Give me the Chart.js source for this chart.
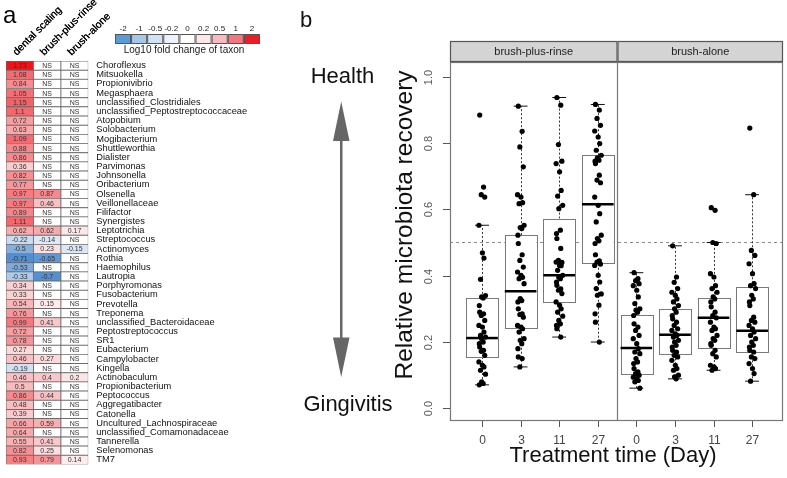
<!DOCTYPE html>
<html>
<head>
<meta charset="utf-8">
<script src="https://cdn.jsdelivr.net/npm/chart.js@4.4.0/dist/chart.umd.min.js"></script>
<style>
  body { margin: 0; background: #fff; width: 787px; height: 478px; overflow: hidden; position: relative; }
  #heat { position: absolute; left: 0; top: 0; width: 280px; height: 478px; }
  #box { position: absolute; left: 280px; top: 0; width: 507px; height: 478px; }
</style>
</head>
<body>
<canvas id="heat" width="280" height="478"></canvas>
<canvas id="box" width="507" height="478"></canvas>
<script>
// ---- panel a: taxa and log10 fold changes (null = NS) ----
const taxa = ["Choroflexus", "Mitsuokella", "Propionivibrio", "Megasphaera", "unclassified_Clostridiales",
  "unclassified_Peptostreptococcaceae", "Atopobium", "Solobacterium", "Mogibacterium", "Shuttleworthia",
  "Dialister", "Parvimonas", "Johnsonella", "Oribacterium", "Olsenella", "Veillonellaceae", "Filifactor",
  "Synergistes", "Leptotrichia", "Streptococcus", "Actinomyces", "Rothia", "Haemophilus", "Lautropia",
  "Porphyromonas", "Fusobacterium", "Prevotella", "Treponema", "unclassified_Bacteroidaceae",
  "Peptostreptococcus", "SR1", "Eubacterium", "Campylobacter", "Kingella", "Actinobaculum",
  "Propionibacterium", "Peptococcus", "Aggregatibacter", "Catonella", "Uncultured_Lachnospiraceae",
  "unclassified_Comamonadaceae", "Tannerella", "Selenomonas", "TM7"];
const treatments = ["dental scaling", "brush-plus-rinse", "brush-alone"];
const dentalScaling = [1.73, 1.08, 0.84, 1.05, 1.15, 1.1, 0.72, 0.63, 1.09, 0.88, 0.86, 0.36, 0.82, 0.77,
  0.97, 0.97, 0.89, 1.11, 0.62, -0.22, -0.5, -0.71, -0.53, -0.33, 0.34, 0.33, 0.54, 0.76, 0.99, 0.72, 0.78,
  0.27, 0.46, -0.19, 0.46, 0.5, 0.86, 0.48, 0.39, 0.66, 0.64, 0.55, 0.82, 0.93];
const brushPlusRinse = [null, null, null, null, null, null, null, null, null, null, null, null, null, null,
  0.87, 0.46, null, null, 0.62, -0.14, 0.23, -0.65, null, -0.7, null, null, 0.15, null, 0.41, null, null,
  null, 0.27, null, 0.4, null, 0.44, null, null, 0.59, null, 0.41, 0.25, 0.79];
const brushAlone = [null, null, null, null, null, null, null, null, null, null, null, null, null, null,
  null, null, null, null, 0.17, null, -0.15, null, null, null, null, null, null, null, null, null, null,
  null, null, null, 0.2, null, null, null, null, null, null, null, null, 0.14];
const legendBreaks = [-2, -1, -0.5, -0.2, 0, 0.2, 0.5, 1, 2];

// ---- panel b: relative microbiota recovery per group ----
const panels = ["brush-plus-rinse", "brush-alone"];
const dayLabels = ["0", "3", "11", "27", "0", "3", "11", "27"];
const yTicks = [0, 0.2, 0.4, 0.6, 0.8, 1.0];
const rinseDay0 = [0.884, 0.667, 0.644, 0.637, 0.552, 0.469, 0.453, 0.389, 0.34, 0.336, 0.333, 0.31, 0.29,
  0.285, 0.28, 0.265, 0.25, 0.245, 0.23, 0.22, 0.215, 0.21, 0.2, 0.195, 0.185, 0.175, 0.172, 0.16, 0.14,
  0.13, 0.125, 0.115, 0.103, 0.08, 0.075, 0.071];
const rinseDay3 = [0.911, 0.835, 0.788, 0.728, 0.644, 0.637, 0.62, 0.617, 0.552, 0.545, 0.542, 0.522, 0.497,
  0.463, 0.446, 0.426, 0.411, 0.401, 0.395, 0.391, 0.376, 0.331, 0.325, 0.321, 0.3, 0.285, 0.283, 0.275,
  0.25, 0.245, 0.24, 0.23, 0.21, 0.205, 0.195, 0.18, 0.155, 0.15, 0.125];
const rinseDay11 = [0.937, 0.914, 0.795, 0.745, 0.738, 0.713, 0.657, 0.64, 0.612, 0.602, 0.537, 0.527, 0.512,
  0.482, 0.446, 0.44, 0.441, 0.431, 0.43, 0.416, 0.401, 0.395, 0.391, 0.381, 0.371, 0.36, 0.356, 0.346,
  0.321, 0.311, 0.3, 0.29, 0.278, 0.265, 0.255, 0.25, 0.24, 0.215];
const rinseDay27 = [0.916, 0.899, 0.874, 0.853, 0.836, 0.818, 0.798, 0.778, 0.763, 0.755, 0.748, 0.745, 0.738,
  0.703, 0.688, 0.68, 0.637, 0.612, 0.587, 0.562, 0.522, 0.512, 0.505, 0.497, 0.463, 0.445, 0.441, 0.435,
  0.431, 0.401, 0.381, 0.361, 0.345, 0.341, 0.311, 0.285, 0.26, 0.2];
const aloneDay0 = [0.409, 0.391, 0.385, 0.376, 0.37, 0.356, 0.336, 0.316, 0.3, 0.296, 0.29, 0.28, 0.255,
  0.245, 0.235, 0.22, 0.21, 0.195, 0.18, 0.17, 0.165, 0.15, 0.14, 0.135, 0.12, 0.11, 0.105, 0.1, 0.094,
  0.09, 0.084, 0.08, 0.061];
const aloneDay3 = [0.49, 0.396, 0.38, 0.361, 0.35, 0.341, 0.33, 0.321, 0.31, 0.3, 0.29, 0.28, 0.27, 0.26,
  0.25, 0.24, 0.235, 0.225, 0.22, 0.215, 0.205, 0.2, 0.19, 0.185, 0.175, 0.17, 0.16, 0.155, 0.145, 0.13,
  0.12, 0.115, 0.1, 0.095, 0.089];
const aloneDay11 = [0.605, 0.597, 0.5, 0.497, 0.406, 0.396, 0.37, 0.361, 0.35, 0.336, 0.33, 0.321, 0.306,
  0.29, 0.28, 0.273, 0.26, 0.245, 0.24, 0.235, 0.22, 0.21, 0.205, 0.195, 0.19, 0.175, 0.165, 0.155, 0.13,
  0.125, 0.12, 0.115];
const aloneDay27 = [0.845, 0.644, 0.476, 0.461, 0.436, 0.406, 0.376, 0.37, 0.361, 0.341, 0.33, 0.321, 0.31,
  0.275, 0.265, 0.26, 0.25, 0.24, 0.23, 0.22, 0.21, 0.2, 0.19, 0.185, 0.175, 0.17, 0.155, 0.15, 0.135,
  0.12, 0.105, 0.082];
// box statistics (lower whisker, Q1, median, Q3, upper whisker)
const whiskerLow = [0.071, 0.125, 0.215, 0.2, 0.061, 0.089, 0.115, 0.082];
const quartile1 = [0.155, 0.243, 0.321, 0.436, 0.103, 0.163, 0.182, 0.169];
const medians = [0.212, 0.353, 0.401, 0.615, 0.182, 0.222, 0.273, 0.234];
const quartile3 = [0.333, 0.522, 0.572, 0.763, 0.28, 0.3, 0.333, 0.365];
const whiskerHigh = [0.552, 0.911, 0.937, 0.916, 0.409, 0.49, 0.5, 0.644];

const FONT = '"Liberation Sans", Arial, Helvetica, sans-serif';
const legendColors = ["#5b9bd5", "#a6c6ea", "#d1e2f4", "#edf3fb", "#ffffff", "#fde5e8", "#f9b9be", "#f2767d", "#ee1c25"];

function mix(a, b, t) {
  return "rgb(" + a.map((c, i) => Math.round(c + (b[i] - c) * t)).join(",") + ")";
}
function heatColor(v) {
  if (v === null) return "#ffffff";
  if (v >= 0) return mix([255, 255, 255], [238, 16, 24], Math.min(1, v / 1.75));
  return mix([255, 255, 255], [72, 136, 206], Math.min(1, -v / 0.75));
}

const heatColumns = [dentalScaling, brushPlusRinse, brushAlone];

const heatDecor = {
  id: "heatDecor",
  afterDatasetsDraw(chart) {
    const ctx = chart.ctx;
    ctx.save();
    ctx.font = "7px " + FONT;
    ctx.fillStyle = "#333";
    ctx.textAlign = "center";
    ctx.textBaseline = "middle";
    chart.data.datasets.forEach((ds, c) => {
      chart.getDatasetMeta(c).data.forEach((bar, i) => {
        const v = heatColumns[c][i];
        ctx.fillText(v === null ? "NS" : String(v), (bar.x + bar.base) / 2, bar.y + 0.5);
      });
    });
    ctx.restore();
  },
  afterDraw(chart) {
    const ctx = chart.ctx, area = chart.chartArea, xs = chart.scales.x;
    ctx.save();
    ctx.fillStyle = "#000";
    ctx.font = "24px " + FONT;
    ctx.textBaseline = "alphabetic";
    ctx.fillText("a", 3, 23);
    // rotated column headers
    ctx.font = "10.5px " + FONT;
    treatments.forEach((t, c) => {
      ctx.save();
      ctx.translate(xs.getPixelForValue(c + 0.5) - 3, area.top - 5);
      ctx.rotate(-Math.PI / 4);
      ctx.fillText(t, 0, 0);
      ctx.fillText(t, 0.3, 0);
      ctx.restore();
    });
    // colour key
    const kx = 115, ky = 34, kw = 16.1, kh = 10;
    legendBreaks.forEach((b, i) => {
      ctx.fillStyle = legendColors[i];
      ctx.fillRect(kx + i * kw, ky, kw, kh);
      ctx.strokeStyle = "#555";
      ctx.lineWidth = 1;
      ctx.strokeRect(kx + i * kw + 0.5, ky + 0.5, kw - 1, kh - 1);
      ctx.fillStyle = "#222";
      ctx.font = "8px " + FONT;
      ctx.textAlign = "center";
      ctx.textBaseline = "middle";
      ctx.fillText(String(b), kx + i * kw + kw / 2, 29);
    });
    ctx.font = "10px " + FONT;
    ctx.fillText("Log10 fold change of taxon", 184, 50.5);
    ctx.restore();
  }
};

new Chart(document.getElementById("heat"), {
  type: "bar",
  data: {
    labels: taxa,
    datasets: heatColumns.map((vals, c) => ({
      label: treatments[c],
      data: taxa.map(() => [c, c + 1]),
      backgroundColor: vals.map(heatColor),
      borderColor: "#6a6a6a",
      borderWidth: 0.8,
      borderSkipped: false,
      grouped: false,
      barPercentage: 1,
      categoryPercentage: 1
    }))
  },
  options: {
    indexAxis: "y",
    responsive: false,
    animation: false,
    layout: { padding: { left: 6, top: 61, right: 0, bottom: 12 } },
    plugins: { legend: { display: false }, tooltip: { enabled: false } },
    scales: {
      x: { type: "linear", min: 0, max: 3, display: false },
      y: {
        position: "right",
        grid: { display: false, drawTicks: false },
        border: { display: false },
        ticks: { autoSkip: false, padding: 8, color: "#111", font: { family: FONT, size: 9.3 } },
        afterFit: s => { s.width = 191.7; }
      }
    }
  },
  plugins: [heatDecor]
});

// ---- panel b ----
const groups = [rinseDay0, rinseDay3, rinseDay11, rinseDay27, aloneDay0, aloneDay3, aloneDay11, aloneDay27];
const jitter = [-0.06, 0.04, -0.02, 0.07, -0.08, 0.01, 0.05, -0.04, 0.09, -0.01, 0.03, -0.07];

const boxDecor = {
  id: "boxDecor",
  beforeDatasetsDraw(chart) {
    const ctx = chart.ctx, a = chart.chartArea, x = chart.scales.x, y = chart.scales.y;
    ctx.save();
    // reference line
    const y5 = Math.round(y.getPixelForValue(0.5)) + 0.5;
    ctx.strokeStyle = "#8c8c8c";
    ctx.lineWidth = 1;
    ctx.setLineDash([3, 3]);
    ctx.beginPath();
    ctx.moveTo(a.left, y5);
    ctx.lineTo(a.right, y5);
    ctx.stroke();
    groups.forEach((g, i) => {
      const p = i + 1;
      const xc = Math.round(x.getPixelForValue(p)) + 0.5;
      const xl = x.getPixelForValue(p - 0.41), xr = x.getPixelForValue(p + 0.41);
      const cl = x.getPixelForValue(p - 0.18), cr = x.getPixelForValue(p + 0.18);
      const lo = y.getPixelForValue(whiskerLow[i]), q1 = y.getPixelForValue(quartile1[i]);
      const md = y.getPixelForValue(medians[i]), q3 = y.getPixelForValue(quartile3[i]);
      const hi = y.getPixelForValue(whiskerHigh[i]);
      ctx.strokeStyle = "#333";
      ctx.lineWidth = 1;
      ctx.setLineDash([2, 2]);
      ctx.beginPath();
      ctx.moveTo(xc, q3); ctx.lineTo(xc, hi);
      ctx.moveTo(xc, q1); ctx.lineTo(xc, lo);
      ctx.stroke();
      ctx.setLineDash([]);
      ctx.strokeStyle = "#111";
      ctx.beginPath();
      ctx.moveTo(cl, hi); ctx.lineTo(cr, hi);
      ctx.moveTo(cl, lo); ctx.lineTo(cr, lo);
      ctx.stroke();
      ctx.fillStyle = "#fff";
      ctx.fillRect(xl, q3, xr - xl, q1 - q3);
      ctx.strokeStyle = "#7a7a7a";
      ctx.strokeRect(Math.round(xl) + 0.5, Math.round(q3) + 0.5, Math.round(xr - xl), Math.round(q1 - q3));
      ctx.strokeStyle = "#000";
      ctx.lineWidth = 2.5;
      ctx.beginPath();
      ctx.moveTo(xl, md); ctx.lineTo(xr, md);
      ctx.stroke();
    });
    ctx.restore();
  },
  afterDraw(chart) {
    const ctx = chart.ctx, a = chart.chartArea, x = chart.scales.x, y = chart.scales.y;
    ctx.save();
    // frame and panel divider
    const xm = Math.round(x.getPixelForValue(4.5)) + 0.5;
    ctx.strokeStyle = "#777";
    ctx.lineWidth = 1.2;
    ctx.strokeRect(a.left + 0.5, a.top + 0.5, a.right - a.left - 1, a.bottom - a.top - 1);
    ctx.beginPath();
    ctx.moveTo(xm, a.top); ctx.lineTo(xm, a.bottom);
    ctx.stroke();
    // strips
    const edges = [a.left, xm, a.right];
    panels.forEach((name, i) => {
      ctx.fillStyle = "#d4d4d4";
      ctx.fillRect(edges[i], 41, edges[i + 1] - edges[i], a.top - 41);
      ctx.strokeStyle = "#555";
      ctx.lineWidth = 1.2;
      ctx.strokeRect(edges[i] + 0.5, 41.5, edges[i + 1] - edges[i] - 1, a.top - 42);
      ctx.fillStyle = "#222";
      ctx.font = "11px " + FONT;
      ctx.textAlign = "center";
      ctx.textBaseline = "middle";
      ctx.fillText(name, (edges[i] + edges[i + 1]) / 2, 51.5);
    });
    // y ticks
    ctx.strokeStyle = "#555";
    ctx.lineWidth = 1;
    ctx.fillStyle = "#5a5a5a";
    ctx.font = "11px " + FONT;
    yTicks.forEach(v => {
      const py = Math.round(y.getPixelForValue(v)) + 0.5;
      ctx.beginPath();
      ctx.moveTo(a.left - 7, py); ctx.lineTo(a.left, py);
      ctx.stroke();
      ctx.save();
      ctx.translate(a.left - 21, py);
      ctx.rotate(-Math.PI / 2);
      ctx.textAlign = "center";
      ctx.textBaseline = "middle";
      ctx.fillText(v.toFixed(1), 0, 0);
      ctx.restore();
    });
    // x ticks
    ctx.font = "12px " + FONT;
    ctx.fillStyle = "#444";
    ctx.textAlign = "center";
    ctx.textBaseline = "middle";
    dayLabels.forEach((lab, i) => {
      const px = Math.round(x.getPixelForValue(i + 1)) + 0.5;
      ctx.beginPath();
      ctx.moveTo(px, a.bottom); ctx.lineTo(px, a.bottom + 6);
      ctx.stroke();
      ctx.fillText(lab, px, 441);
    });
    // titles
    ctx.fillStyle = "#111";
    ctx.font = "22px " + FONT;
    ctx.fillText("Treatment time (Day)", 333, 456);
    ctx.fillText("Health", 62.5, 77);
    ctx.fillText("Gingivitis", 68, 405);
    ctx.save();
    ctx.font = "24.5px " + FONT;
    ctx.translate(125, 225);
    ctx.rotate(-Math.PI / 2);
    ctx.fillText("Relative microbiota recovery", 0, 0);
    ctx.restore();
    ctx.textAlign = "left";
    ctx.textBaseline = "alphabetic";
    ctx.fillText("b", 20, 27);
    // double arrow
    ctx.fillStyle = "#666";
    ctx.fillRect(60, 138, 2.5, 201);
    ctx.beginPath();
    ctx.moveTo(61.2, 101.5); ctx.lineTo(69.5, 141); ctx.lineTo(53, 141); ctx.closePath();
    ctx.moveTo(61.2, 377); ctx.lineTo(69.5, 337.5); ctx.lineTo(53, 337.5); ctx.closePath();
    ctx.fill();
    ctx.restore();
  }
};

new Chart(document.getElementById("box"), {
  type: "scatter",
  data: {
    datasets: groups.map((g, i) => ({
      label: panels[i < 4 ? 0 : 1] + " day " + dayLabels[i],
      data: g.map((v, k) => ({ x: i + 1 + jitter[k % jitter.length], y: v })),
      pointRadius: 2.6,
      pointBackgroundColor: "#000",
      pointBorderWidth: 0
    }))
  },
  options: {
    responsive: false,
    animation: false,
    layout: { padding: { left: 170, right: 3, top: 62, bottom: 57 } },
    plugins: { legend: { display: false }, tooltip: { enabled: false } },
    scales: {
      x: { type: "linear", min: 0.17, max: 8.8, display: false },
      y: { type: "linear", min: -0.038, max: 1.044, display: false }
    }
  },
  plugins: [boxDecor]
});
</script>
</body>
</html>
